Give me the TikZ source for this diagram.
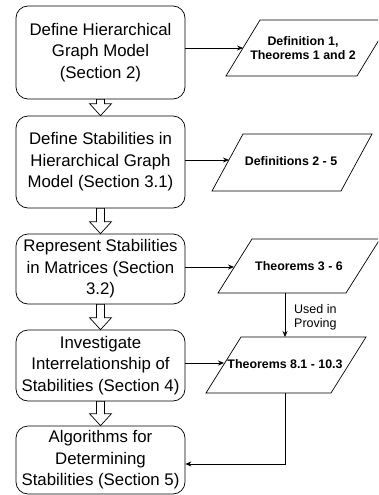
\documentclass[tikz,border=0pt]{standalone}
\usepackage{fontspec}
\setmainfont{Liberation Sans}
\usetikzlibrary{arrows.meta,calc}

\tikzset{
  stepbox/.style={draw, line width=0.7pt, rounded corners=12pt, fill=white,
    minimum width=169pt, align=center, inner sep=0pt,
    font=\fontsize{16.8}{21.5}\selectfont},
  datashape/.style={draw, line width=0.7pt, fill=white},
  datatext/.style={align=center, inner sep=0pt, font=\fontsize{12.4}{14}\selectfont\bfseries},
  conn/.style={draw, line width=0.7pt, -{Stealth[length=6pt,width=5pt]}},
  hollow/.style={draw, line width=0.7pt, fill=white},
  note/.style={align=left, inner sep=0pt, anchor=west, font=\fontsize{12.5}{14}\selectfont}
}

% hollow block arrow between two anchors
\newcommand\blockarrow[2]{%
  \path[hollow] let \p1=(#1), \p2=(#2) in
    (\x1-4pt,\y1) -- (\x1-4pt,\y2+12pt) -- (\x1-11pt,\y2+12pt) -- (\x1,\y2)
    -- (\x1+11pt,\y2+12pt) -- (\x1+4pt,\y2+12pt) -- (\x1+4pt,\y1) -- cycle;}

\begin{document}
\begin{tikzpicture}[x=1pt, y=-1pt]
\useasboundingbox (0,0) rectangle (378,495);
\clip (0,0) rectangle (378,495);

% process steps
\node[stepbox, minimum height=93pt] (b1) at (100.5,52.5)
  {Define Hierarchical\\Graph Model\\(Section 2)};
\node[stepbox, minimum height=92pt] (b2) at (100.5,162)
  {Define Stabilities in\\Hierarchical Graph\\Model (Section 3.1)};
\node[stepbox, minimum height=70pt] (b3) at (100.5,269)
  {Represent Stabilities\\in Matrices (Section\\3.2)};
\node[stepbox, minimum height=71pt] (b4) at (100.5,365.5)
  {Investigate\\Interrelationship of\\Stabilities (Section 4)};
\node[stepbox, minimum height=68pt] (b5) at (100.5,460)
  {Algorithms for\\Determining\\Stabilities (Section 5)};

\blockarrow{b1.south}{b2.north}
\blockarrow{b2.south}{b3.north}
\blockarrow{b3.south}{b4.north}
\blockarrow{b4.south}{b5.north}

% results (parallelograms)
\path[datashape] (226,76) -- (260,20) -- (391,20) -- (357,76) -- cycle;
\node[datatext] (d1) at (303,48.5) {Definition 1,\\Theorems 1 and 2};
\coordinate (d1in) at (243,48);

\path[datashape] (212,191) -- (243,134) -- (372,134) -- (341,191) -- cycle;
\node[datatext] (d2) at (291,161.5) {Definitions 2 - 5};
\coordinate (d2in) at (229,160);

\path[datashape] (218,293) -- (252,239) -- (380,239) -- (346,293) -- cycle;
\node[datatext] (d3) at (299,266.5) {Theorems 3 - 6};
\coordinate (d3in) at (234,267);
\coordinate (d3out) at (285,293);

\path[datashape] (206,393) -- (241,337) -- (366,337) -- (331,393) -- cycle;
\node[datatext] (d4) at (285,364) {Theorems 8.1 - 10.3};
\coordinate (d4in) at (224,363);
\coordinate (d4top) at (285,337);
\coordinate (d4out) at (285,393);
\coordinate (bend) at (285,464);

% connectors
\draw[conn] (d1in -| b1.east) -- (d1in);
\draw[conn] (d2in -| b2.east) -- (d2in);
\draw[conn] (d3in -| b3.east) -- (d3in);
\draw[conn] (d4in -| b4.east) -- (d4in);
\draw[conn] (d3out) -- (d4top);
\draw[conn] (d4out) -- (bend) -- (bend -| b5.east);

\node[note] (used) at (294,317) {Used in\\Proving};
\end{tikzpicture}
\end{document}
